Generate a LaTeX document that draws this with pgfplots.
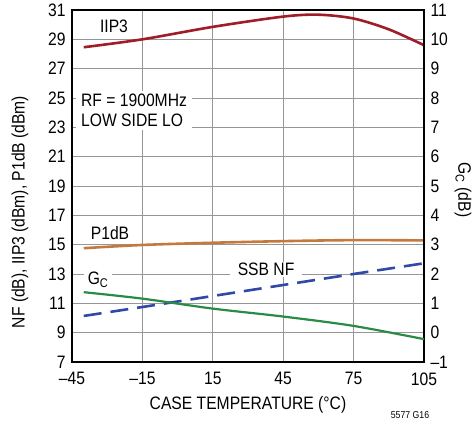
\documentclass[border=0pt]{standalone}
\usepackage{fontspec}
\setmainfont{Liberation Sans}[FakeStretch=0.87]
\usepackage{pgfplots}
\pgfplotsset{compat=1.18}
\definecolor{iipc}{RGB}{160,28,40}
\definecolor{p1c}{RGB}{196,122,60}
\definecolor{nfc}{RGB}{48,72,168}
\definecolor{gcc}{RGB}{40,140,70}
\definecolor{gridc}{RGB}{150,150,150}
\newcommand{\lbl}{\fontsize{18}{20}\selectfont}
\begin{document}
\begin{tikzpicture}
\useasboundingbox (-72pt,-63pt) rectangle (401pt,362pt);
\begin{axis}[
  scale only axis, width=352pt, height=352pt,
  xmin=-45, xmax=105, ymin=7, ymax=31,
  xtick={-45,-15,15,45,75,105},
  xticklabels={\textendash45,\textendash15,15,45,75,105},
  ytick={7,9,...,31},
  yticklabels={7,9,11,13,15,17,19,21,23,25,27,29,31},
  grid=major, grid style={gridc, line width=0.9pt},
  axis line style={black, line width=1.4pt},
  major tick length=0pt,
  tick label style={font=\lbl},
  yticklabel style={xshift=-3pt},
  xticklabel style={yshift=-7pt},
]
\addplot[iipc, line width=2.6pt, smooth] coordinates {
  (-40,28.46) (-15,29.0) (15,29.85) (45,30.55) (60,30.68) (75,30.42) (90,29.68) (105,28.6)};
\addplot[p1c, line width=2.6pt, smooth] coordinates {
  (-40,14.76) (-15,14.98) (15,15.13) (45,15.24) (75,15.31) (105,15.29)};
\addplot[nfc, line width=2.6pt, dash pattern=on 18pt off 9pt] coordinates {
  (-40,10.14) (-15,10.75) (15,11.5) (45,12.25) (75,13.0) (105,13.73)};
\node[font=\lbl, fill=white, inner sep=1pt] at (axis cs:-27.1,29.91) {IIP3};
\node[font=\lbl, fill=white, inner xsep=5pt, inner ysep=3pt, anchor=west, align=left] at (axis cs:-43.3,24.16) {RF = 1900MHz\\LOW SIDE LO};
\node[font=\lbl, fill=white, inner sep=1pt] at (axis cs:-28.8,15.8) {P1dB};
\node[font=\lbl, fill=white, inner xsep=4pt, inner ysep=1pt] at (axis cs:-33.9,12.6) {G\textsubscript{C}};
\node[font=\lbl, fill=white, inner xsep=8pt, inner ysep=1pt] at (axis cs:37.7,13.31) {SSB NF};
\end{axis}
\begin{axis}[
  scale only axis, width=352pt, height=352pt,
  xmin=-45, xmax=105, ymin=-1, ymax=11,
  axis x line=none, axis y line*=right,
  ytick={-1,0,...,11},
  yticklabels={\textendash1,0,1,2,3,4,5,6,7,8,9,10,11},
  axis line style={black, line width=1.4pt},
  major tick length=0pt,
  tick label style={font=\lbl},
  yticklabel style={xshift=3pt},
]
\addplot[gcc, line width=2.2pt, smooth] coordinates {
  (-40,1.38) (-15,1.16) (15,0.82) (45,0.55) (75,0.23) (105,-0.22)};
\end{axis}
\node[font=\lbl, rotate=90] at (-52pt,150pt) {NF (dB), IIP3 (dBm), P1dB (dBm)};
\node[font=\lbl, rotate=-90] at (391pt,172pt) {G\textsubscript{C} (dB)};
\node[font=\lbl] at (176pt,-43pt) {CASE TEMPERATURE (°C)};
\node[font=\fontsize{10}{12}\selectfont] at (338pt,-53pt) {5577 G16};
\end{tikzpicture}
\end{document}
